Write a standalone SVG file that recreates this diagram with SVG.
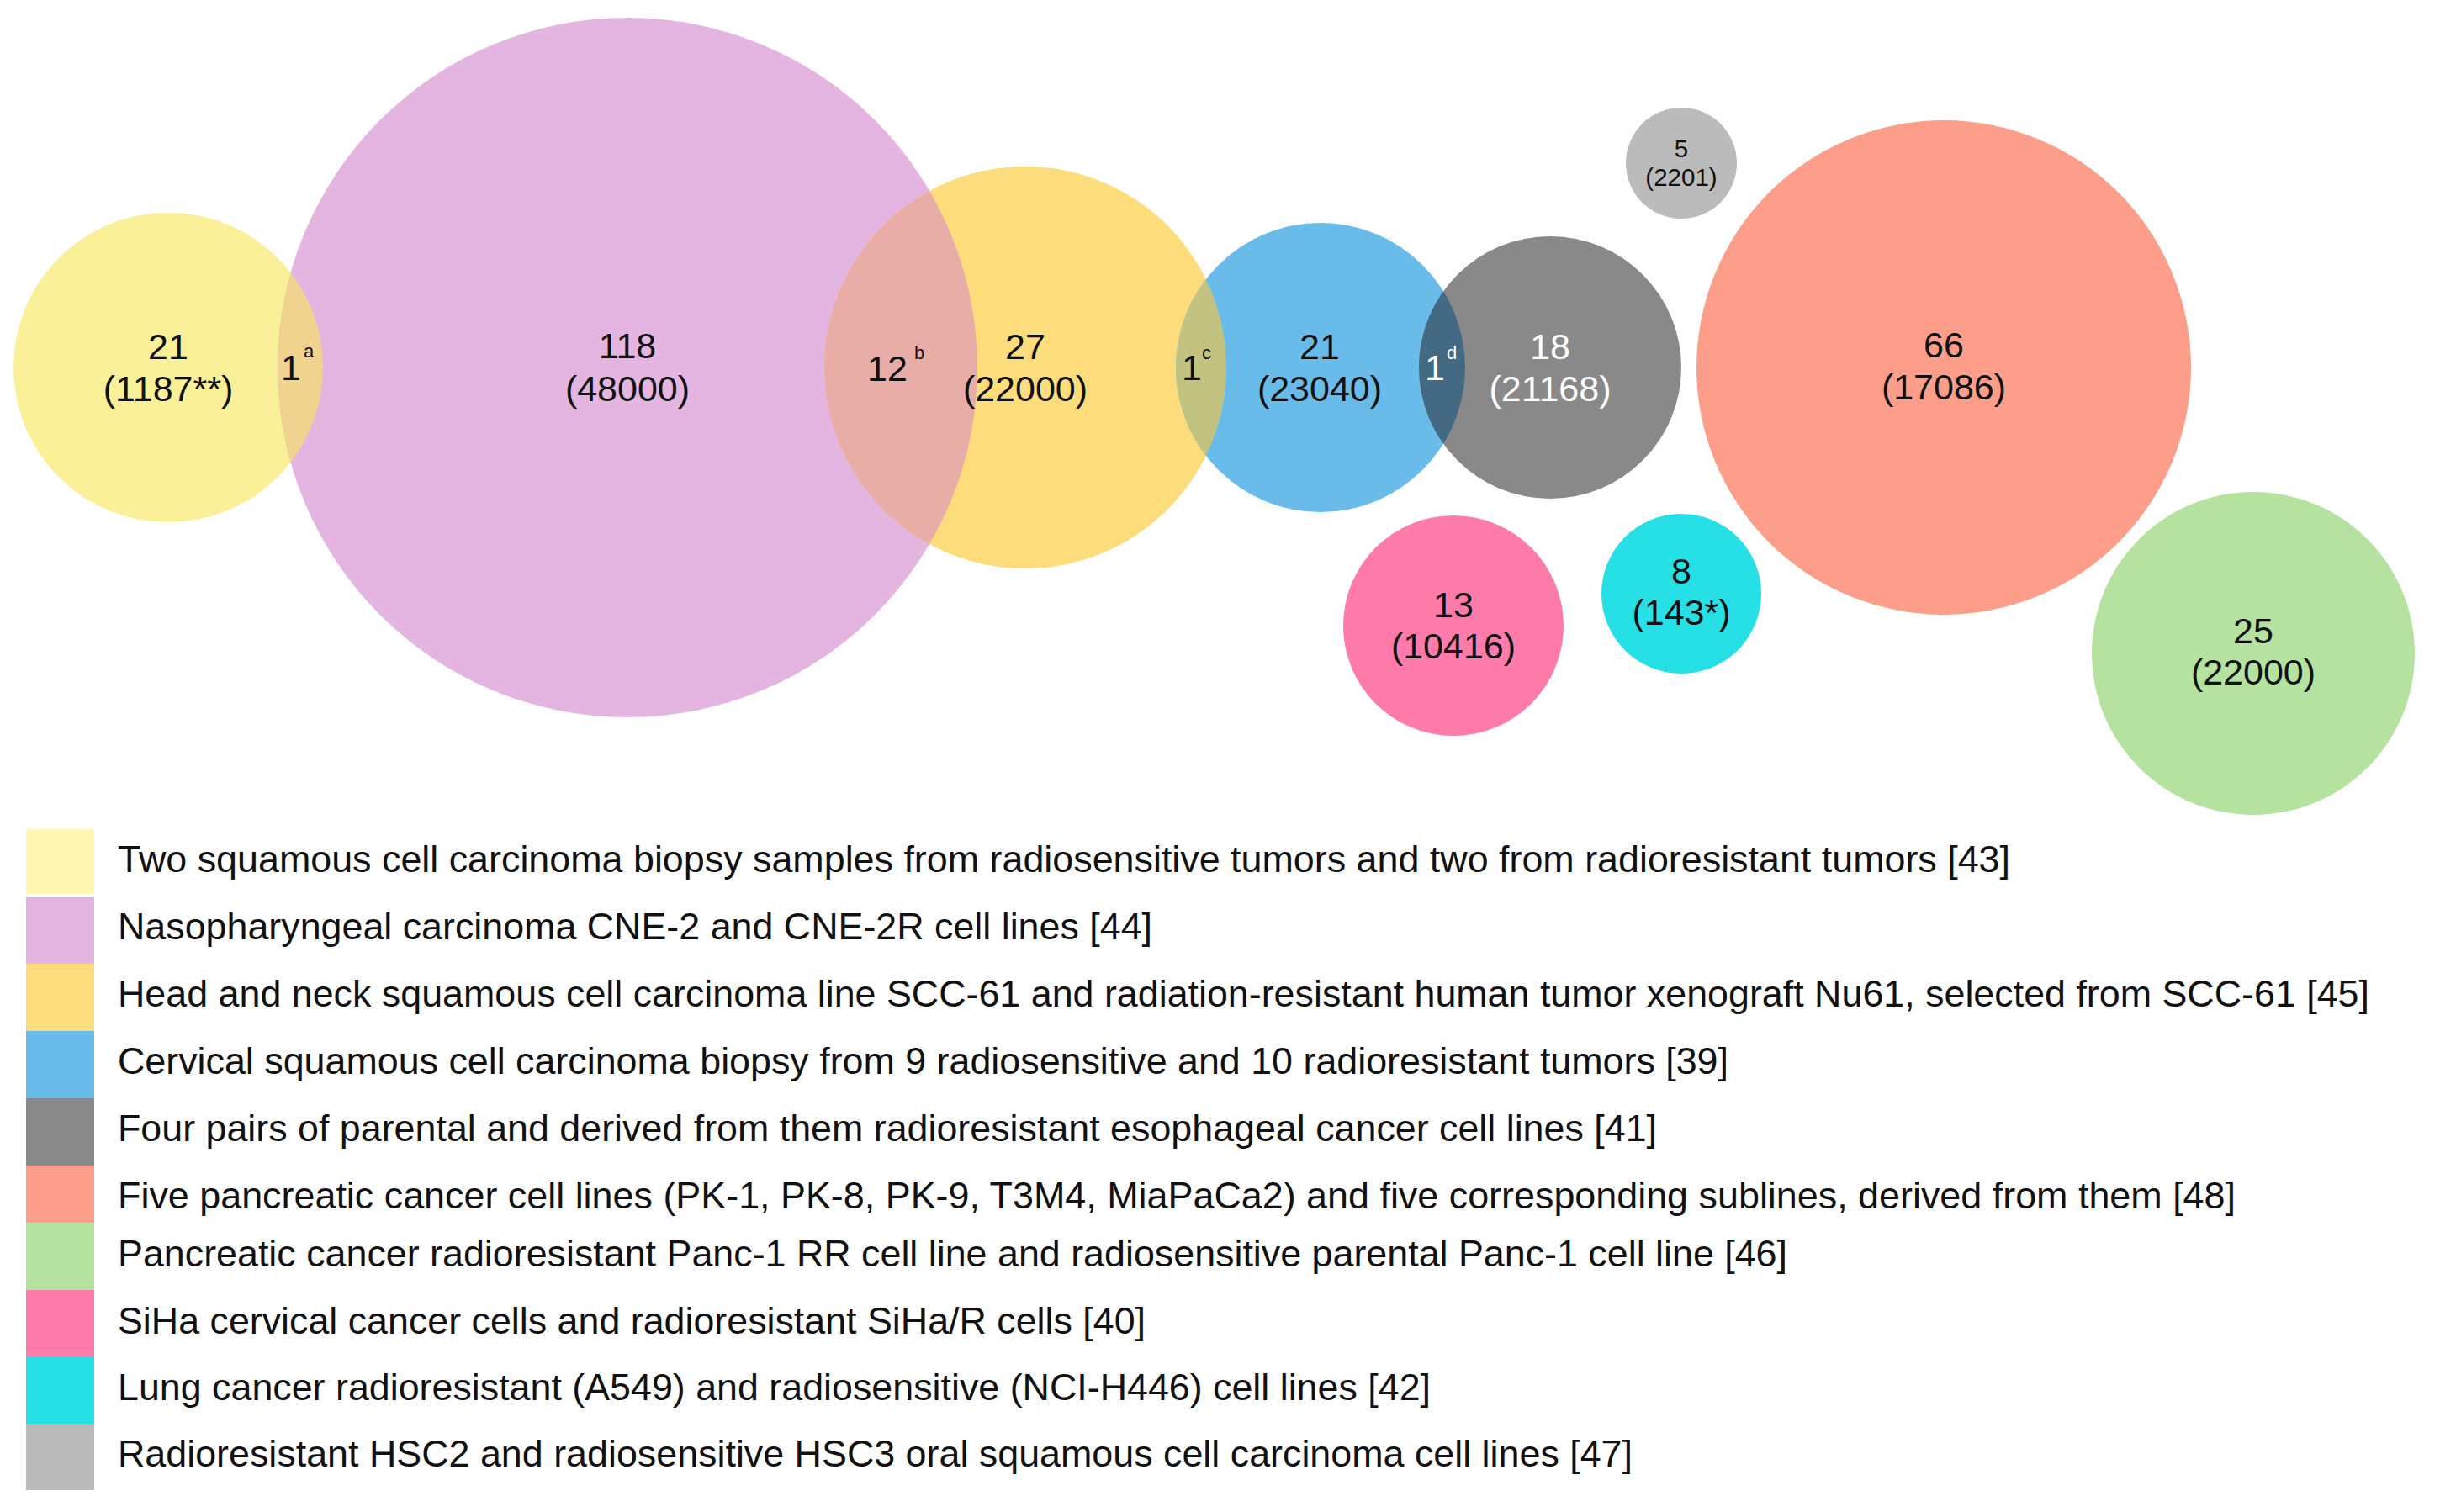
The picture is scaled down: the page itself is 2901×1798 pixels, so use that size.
<svg xmlns="http://www.w3.org/2000/svg" width="2901" height="1798" viewBox="0 0 2901 1798">
<style>
text{font-family:"Liberation Sans",Arial,sans-serif;fill:#111}
.n{font-size:43px;text-anchor:middle}
.s{font-size:43px}
.sup{font-size:22px}
.w{fill:#fff}
.lg{font-size:45px}
.sm{font-size:29.5px;text-anchor:middle}
</style>
<defs>
<clipPath id="cpYellow"><circle cx="200" cy="437" r="184"/></clipPath>
<clipPath id="cpPurple"><circle cx="746" cy="437" r="416"/></clipPath>
<clipPath id="cpGold"><circle cx="1219" cy="437" r="239"/></clipPath>
<clipPath id="cpBlue"><circle cx="1570" cy="437" r="172"/></clipPath>
</defs>
<rect width="2901" height="1798" fill="#fff"/>

<g id="circle-yellow"><circle cx="200" cy="437" r="184" fill="#F9F097"/></g>
<g id="circle-purple"><circle cx="746" cy="437" r="416" fill="#E3B5E0"/></g>
<g id="circle-gold"><circle cx="1219" cy="437" r="239" fill="#FDDC7C"/></g>
<g id="circle-blue"><circle cx="1570" cy="437" r="172" fill="#69BCEA"/></g>
<g id="circle-darkgray"><circle cx="1843" cy="437" r="156" fill="#898989"/></g>
<g id="circle-lightgray"><circle cx="1999" cy="194" r="66" fill="#BBBBBB"/></g>
<g id="circle-salmon"><circle cx="2311" cy="437" r="294" fill="#FD9E8A"/></g>
<g id="circle-pink"><circle cx="1728" cy="744" r="131" fill="#FF7BAA"/></g>
<g id="circle-cyan"><circle cx="1999" cy="706" r="95" fill="#27E0E5"/></g>
<g id="circle-green"><circle cx="2679" cy="777" r="192" fill="#B5E29F"/></g>

<g id="overlaps">
<circle cx="746" cy="437" r="416" fill="#F0D38F" clip-path="url(#cpYellow)"/>
<circle cx="1219" cy="437" r="239" fill="#E9ADA8" clip-path="url(#cpPurple)"/>
<circle cx="1570" cy="437" r="172" fill="#C2C380" clip-path="url(#cpGold)"/>
<circle cx="1843" cy="437" r="156" fill="#436A82" clip-path="url(#cpBlue)"/>
</g>

<g id="labels">
<text class="n" x="200" y="427">21</text><text class="n" x="200" y="477">(1187**)</text>
<text class="n" x="746" y="426">118</text><text class="n" x="746" y="477">(48000)</text>
<text class="n" x="1219" y="427">27</text><text class="n" x="1219" y="477">(22000)</text>
<text class="n" x="1569" y="427">21</text><text class="n" x="1569" y="477">(23040)</text>
<text class="n w" x="1843" y="427">18</text><text class="n w" x="1843" y="477">(21168)</text>
<text class="n" x="2311" y="425">66</text><text class="n" x="2311" y="475">(17086)</text>
<text class="sm" x="1999" y="187">5</text><text class="sm" x="1999" y="221">(2201)</text>
<text class="n" x="1728" y="734">13</text><text class="n" x="1728" y="783">(10416)</text>
<text class="n" x="1999" y="694">8</text><text class="n" x="1999" y="743">(143*)</text>
<text class="n" x="2679" y="765">25</text><text class="n" x="2679" y="814">(22000)</text>
<text class="s" x="334" y="452">1</text><text class="sup" x="361" y="425">a</text>
<text class="s" x="1031" y="453">12</text><text class="sup" x="1087" y="427">b</text>
<text class="s" x="1405" y="452">1</text><text class="sup" x="1429" y="427">c</text>
<text class="s w" x="1694" y="452">1</text><text class="sup w" x="1720" y="427">d</text>
</g>

<g id="legend">
<g id="legend-1"><rect x="31" y="986" width="81" height="77" fill="#FEF7B2"/><text class="lg" x="140" y="1037" textLength="2250" lengthAdjust="spacingAndGlyphs">Two squamous cell carcinoma biopsy samples from radiosensitive tumors and two from radioresistant tumors [43]</text></g>
<g id="legend-2"><rect x="31" y="1067" width="81" height="79" fill="#E3B5E0"/><text class="lg" x="140" y="1117" textLength="1230" lengthAdjust="spacingAndGlyphs">Nasopharyngeal carcinoma CNE-2 and CNE-2R cell lines [44]</text></g>
<g id="legend-3"><rect x="31" y="1146" width="81" height="80" fill="#FDDC7C"/><text class="lg" x="140" y="1197" textLength="2677" lengthAdjust="spacingAndGlyphs">Head and neck squamous cell carcinoma line SCC-61 and radiation-resistant human tumor xenograft Nu61, selected from SCC-61 [45]</text></g>
<g id="legend-4"><rect x="31" y="1226" width="81" height="80" fill="#69BCEA"/><text class="lg" x="140" y="1277" textLength="1915" lengthAdjust="spacingAndGlyphs">Cervical squamous cell carcinoma biopsy from 9 radiosensitive and 10 radioresistant tumors [39]</text></g>
<g id="legend-5"><rect x="31" y="1306" width="81" height="80" fill="#898989"/><text class="lg" x="140" y="1357" textLength="1830" lengthAdjust="spacingAndGlyphs">Four pairs of parental and derived from them radioresistant esophageal cancer cell lines [41]</text></g>
<g id="legend-6"><rect x="31" y="1386" width="81" height="68" fill="#FD9E8A"/><text class="lg" x="140" y="1437" textLength="2518" lengthAdjust="spacingAndGlyphs">Five pancreatic cancer cell lines (PK-1, PK-8, PK-9, T3M4, MiaPaCa2) and five corresponding sublines, derived from them [48]</text></g>
<g id="legend-7"><rect x="31" y="1454" width="81" height="80" fill="#B5E29F"/><text class="lg" x="140" y="1506" textLength="1985" lengthAdjust="spacingAndGlyphs">Pancreatic cancer radioresistant Panc-1 RR cell line and radiosensitive parental Panc-1 cell line [46]</text></g>
<g id="legend-8"><rect x="31" y="1534" width="81" height="79" fill="#FF7BAA"/><text class="lg" x="140" y="1586" textLength="1222" lengthAdjust="spacingAndGlyphs">SiHa cervical cancer cells and radioresistant SiHa/R cells [40]</text></g>
<g id="legend-9"><rect x="31" y="1613" width="81" height="80" fill="#27E0E5"/><text class="lg" x="140" y="1665" textLength="1561" lengthAdjust="spacingAndGlyphs">Lung cancer radioresistant (A549) and radiosensitive (NCI-H446) cell lines [42]</text></g>
<g id="legend-10"><rect x="31" y="1693" width="81" height="79" fill="#BBBBBB"/><text class="lg" x="140" y="1744" textLength="1801" lengthAdjust="spacingAndGlyphs">Radioresistant HSC2 and radiosensitive HSC3 oral squamous cell carcinoma cell lines [47]</text></g>
</g>
</svg>
